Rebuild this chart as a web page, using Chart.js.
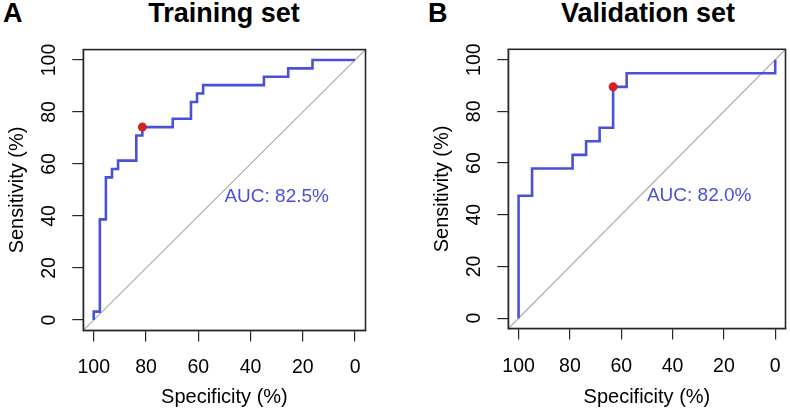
<!DOCTYPE html>
<html>
<head>
<meta charset="utf-8">
<script src="https://cdn.jsdelivr.net/npm/chart.js@4.4.1/dist/chart.umd.min.js"></script>
<style>
html,body{margin:0;padding:0;background:#fff;width:790px;height:415px;overflow:hidden;font-family:"Liberation Sans",Arial,sans-serif;}
canvas{position:absolute;top:0;}
.lbl{position:absolute;font-weight:bold;font-size:27px;line-height:27px;color:#000;white-space:nowrap;}
</style>
</head>
<body>
<div class="lbl" style="left:3px;top:0px;">A</div>
<div class="lbl" style="left:83px;top:0px;width:282px;text-align:center;">Training set</div>
<div class="lbl" style="left:428px;top:0px;">B</div>
<div class="lbl" style="left:508px;top:0px;width:280px;text-align:center;">Validation set</div>
<canvas id="c1" width="395" height="415" style="left:0px;"></canvas>
<canvas id="c2" width="365" height="415" style="left:425px;"></canvas>
<script>
// ---- data (percent) ----
const tickValues = [0, 20, 40, 60, 80, 100];

const trainSpecificity = [100, 100, 97.67, 95.35, 93.02, 90.70, 83.72, 81.40, 69.77, 62.79, 60.47, 58.14, 34.88, 25.58, 16.28, 0];
const trainSensitivity = [0, 3.23, 38.71, 54.84, 58.06, 61.29, 70.97, 74.19, 77.42, 83.87, 87.10, 90.32, 93.55, 96.77, 100, 100];
const trainBest = [81.40, 74.19];
const trainAuc = "AUC: 82.5%";

const validSpecificity = [100, 100, 94.74, 78.95, 73.68, 68.42, 63.16, 57.89, 0];
const validSensitivity = [0, 47.37, 57.89, 63.16, 68.42, 73.68, 89.47, 94.74, 100];
const validBest = [63.16, 89.47];
const validAuc = "AUC: 82.0%";

const axisMin = -4, axisMax = 104;
const aucAnchor = [50, 50];

// ---- styles ----
const FONT = "'Liberation Sans', Arial, sans-serif";
const BLUE = '#4a50d8';
const RED = '#d42027';
const AXIS = '#262626';

const boxPlugin = {
  id: 'box',
  afterDraw(chart) {
    const a = chart.chartArea, ctx = chart.ctx;
    ctx.save();
    ctx.strokeStyle = AXIS;
    ctx.lineWidth = 1.6;
    ctx.strokeRect(a.left, a.top, a.right - a.left, a.bottom - a.top);
    ctx.restore();
  }
};

const aucPlugin = {
  id: 'auc',
  afterDatasetsDraw(chart, args, opts) {
    const ctx = chart.ctx;
    const x = chart.scales.x.getPixelForValue(aucAnchor[0]);
    const y = chart.scales.y.getPixelForValue(aucAnchor[1]);
    ctx.save();
    ctx.fillStyle = BLUE;
    ctx.font = '19px ' + FONT;
    ctx.textAlign = 'left';
    ctx.textBaseline = 'top';
    ctx.fillText(opts.text, x, y - 3);
    ctx.restore();
  }
};

function makeChart(id, spec, sens, best, aucText, g) {
  const pts = spec.map((s, i) => ({x: s, y: sens[i]}));
  return new Chart(document.getElementById(id), {
    type: 'scatter',
    data: {
      datasets: [
        {data: [{x: best[0], y: best[1]}], pointRadius: 4.5, pointHoverRadius: 4.5,
         backgroundColor: RED, borderWidth: 0, showLine: false},
        {data: pts, showLine: true, stepped: 'before', borderColor: BLUE, borderWidth: 2.6,
         pointRadius: 0, fill: false},
        {data: [{x: axisMax, y: axisMin}, {x: axisMin, y: axisMax}], showLine: true,
         borderColor: '#a6a6a6', borderWidth: 1.1, pointRadius: 0, fill: false}
      ]
    },
    options: {
      responsive: false,
      animation: false,
      devicePixelRatio: 1,
      events: [],
      layout: {padding: {left: 0, top: g.top, right: g.right, bottom: 0}},
      plugins: {
        legend: {display: false},
        tooltip: {enabled: false},
        title: {display: false},
        auc: {text: aucText}
      },
      scales: {
        x: {
          type: 'linear', reverse: true, min: axisMin, max: axisMax,
          afterBuildTicks: s => { s.ticks = tickValues.map(v => ({value: v})); },
          afterFit: s => { s.height = g.xAxisH; },
          ticks: {font: {size: 19.5, family: FONT}, color: '#000', padding: 15, maxRotation: 0, minRotation: 0, autoSkip: false},
          grid: {drawOnChartArea: false, tickLength: 11, color: AXIS, lineWidth: 1.2},
          border: {display: true, color: AXIS, width: 1.2},
          title: {display: true, text: 'Specificity (%)', color: '#000',
                  font: {size: 20, family: FONT}, padding: {top: 0, bottom: 6}}
        },
        y: {
          type: 'linear', min: axisMin, max: axisMax,
          afterBuildTicks: s => { s.ticks = tickValues.map(v => ({value: v})); },
          afterFit: s => { s.width = g.yAxisW; },
          ticks: {font: {size: 19.5, family: FONT}, color: '#000', padding: 6, minRotation: 90, maxRotation: 90,
                  crossAlign: 'center', autoSkip: false},
          grid: {drawOnChartArea: false, tickLength: 11, color: AXIS, lineWidth: 1.2},
          border: {display: true, color: AXIS, width: 1.2},
          title: {display: true, text: 'Sensitivity (%)', color: '#000',
                  font: {size: 20, family: FONT}, padding: {top: 5, bottom: 0}}
        }
      }
    },
    plugins: [boxPlugin, aucPlugin]
  });
}

makeChart('c1', trainSpecificity, trainSensitivity, trainBest, trainAuc,
  {top: 49.6, right: 395 - 365.5, xAxisH: 415 - 330.4, yAxisW: 83.3});
makeChart('c2', validSpecificity, validSensitivity, validBest, validAuc,
  {top: 49.3, right: 365 - 362.6, xAxisH: 415 - 328.5, yAxisW: 83.3});
</script>
</body>
</html>
